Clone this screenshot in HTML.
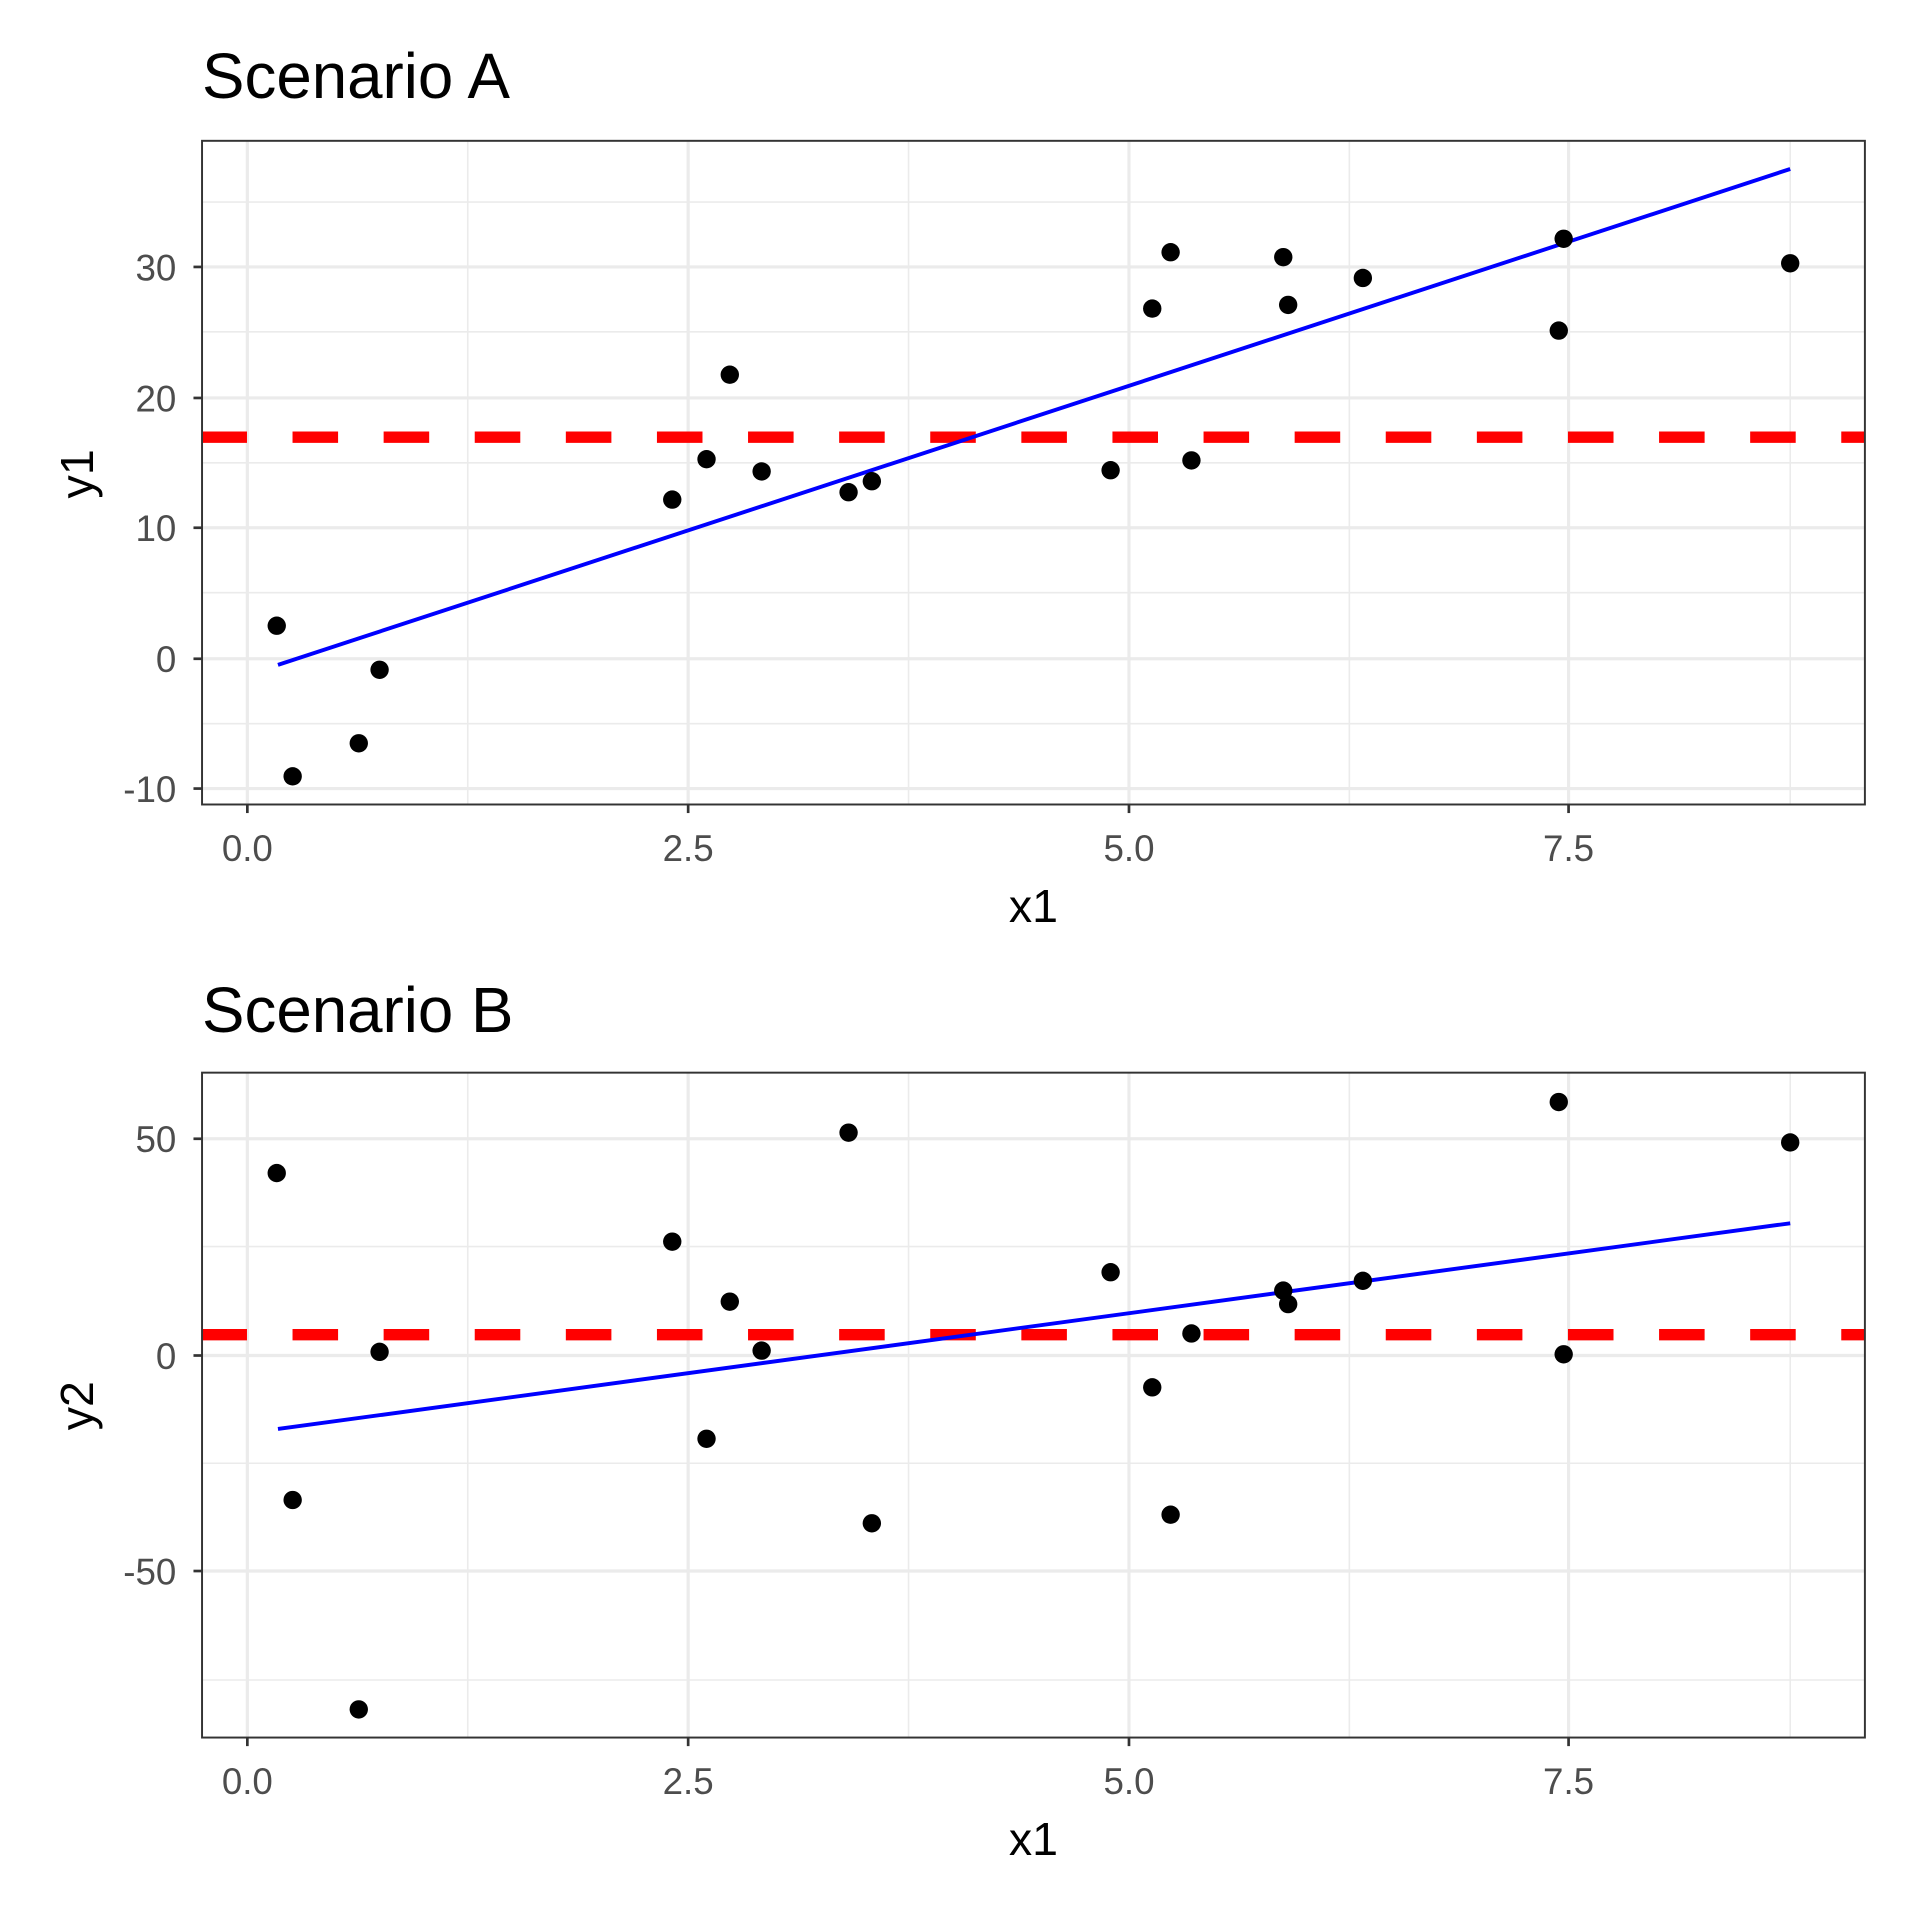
<!DOCTYPE html>
<html><head><style>html,body{margin:0;padding:0;background:#fff}svg{display:block}</style></head>
<body>
<svg width="1920" height="1920" viewBox="0 0 1568 1568" xmlns="http://www.w3.org/2000/svg" font-family="Liberation Sans, Arial, sans-serif">
<rect width="1568" height="1568" fill="#fff"/>
<!-- Panel A -->
<g>
<text x="165" y="80" font-size="52" fill="#000">Scenario A</text>
<g stroke="#ebebeb" stroke-width="1.3">
<line x1="165" x2="1523" y1="165" y2="165"/><line x1="165" x2="1523" y1="271" y2="271"/><line x1="165" x2="1523" y1="378" y2="378"/><line x1="165" x2="1523" y1="484" y2="484"/><line x1="165" x2="1523" y1="591" y2="591"/>
<line y1="115" y2="657" x1="382" x2="382"/><line y1="115" y2="657" x1="742" x2="742"/><line y1="115" y2="657" x1="1102" x2="1102"/><line y1="115" y2="657" x1="1462" x2="1462"/>
</g>
<g stroke="#ebebeb" stroke-width="2.6">
<line x1="165" x2="1523" y1="218" y2="218"/><line x1="165" x2="1523" y1="325" y2="325"/><line x1="165" x2="1523" y1="431" y2="431"/><line x1="165" x2="1523" y1="538" y2="538"/><line x1="165" x2="1523" y1="644" y2="644"/>
<line y1="115" y2="657" x1="202" x2="202"/><line y1="115" y2="657" x1="562" x2="562"/><line y1="115" y2="657" x1="922" x2="922"/><line y1="115" y2="657" x1="1281" x2="1281"/>
</g>
<line x1="165" x2="1523" y1="357" y2="357" stroke="#f00" stroke-width="9.3" stroke-dasharray="37.2,37.2" stroke-dashoffset="0.5"/>
<line x1="227" y1="543" x2="1462" y2="138" stroke="#00f" stroke-width="3.2"/>
<g fill="#000">
<circle cx="226" cy="511" r="7.5"/><circle cx="239" cy="634" r="7.5"/><circle cx="293" cy="607" r="7.5"/><circle cx="310" cy="547" r="7.5"/>
<circle cx="549" cy="408" r="7.5"/><circle cx="577" cy="375" r="7.5"/><circle cx="596" cy="306" r="7.5"/><circle cx="622" cy="385" r="7.5"/>
<circle cx="693" cy="402" r="7.5"/><circle cx="712" cy="393" r="7.5"/><circle cx="907" cy="384" r="7.5"/><circle cx="941" cy="252" r="7.5"/>
<circle cx="956" cy="206" r="7.5"/><circle cx="973" cy="376" r="7.5"/><circle cx="1048" cy="210" r="7.5"/><circle cx="1052" cy="249" r="7.5"/>
<circle cx="1113" cy="227" r="7.5"/><circle cx="1273" cy="270" r="7.5"/><circle cx="1277" cy="195" r="7.5"/><circle cx="1462" cy="215" r="7.5"/>
</g>
<rect x="165" y="115" width="1358" height="542" fill="none" stroke="#333" stroke-width="1.6"/>
<g stroke="#333" stroke-width="2.2">
<line x1="158" x2="165" y1="218" y2="218"/><line x1="158" x2="165" y1="325" y2="325"/><line x1="158" x2="165" y1="431" y2="431"/><line x1="158" x2="165" y1="538" y2="538"/><line x1="158" x2="165" y1="644" y2="644"/>
<line y1="657" y2="664" x1="202" x2="202"/><line y1="657" y2="664" x1="562" x2="562"/><line y1="657" y2="664" x1="922" x2="922"/><line y1="657" y2="664" x1="1281" x2="1281"/>
</g>
<g font-size="30" fill="#4d4d4d" text-anchor="end">
<text x="144" y="229">30</text><text x="144" y="336">20</text><text x="144" y="442">10</text><text x="144" y="549">0</text><text x="144" y="655">-10</text>
</g>
<g font-size="30" fill="#4d4d4d" text-anchor="middle">
<text x="202" y="703">0.0</text><text x="562" y="703">2.5</text><text x="922" y="703">5.0</text><text x="1281" y="703">7.5</text>
</g>
<text x="844" y="753" font-size="38" text-anchor="middle">x1</text>
<text transform="translate(76,387) rotate(-90)" font-size="38" text-anchor="middle">y1</text>
</g>
<!-- Panel B -->
<g>
<text x="165" y="843" font-size="52" fill="#000">Scenario B</text>
<g stroke="#ebebeb" stroke-width="1.3">
<line x1="165" x2="1523" y1="1018" y2="1018"/><line x1="165" x2="1523" y1="1195" y2="1195"/><line x1="165" x2="1523" y1="1372" y2="1372"/>
<line y1="876" y2="1419" x1="382" x2="382"/><line y1="876" y2="1419" x1="742" x2="742"/><line y1="876" y2="1419" x1="1102" x2="1102"/><line y1="876" y2="1419" x1="1462" x2="1462"/>
</g>
<g stroke="#ebebeb" stroke-width="2.6">
<line x1="165" x2="1523" y1="930" y2="930"/><line x1="165" x2="1523" y1="1107" y2="1107"/><line x1="165" x2="1523" y1="1283" y2="1283"/>
<line y1="876" y2="1419" x1="202" x2="202"/><line y1="876" y2="1419" x1="562" x2="562"/><line y1="876" y2="1419" x1="922" x2="922"/><line y1="876" y2="1419" x1="1281" x2="1281"/>
</g>
<line x1="165" x2="1523" y1="1090" y2="1090" stroke="#f00" stroke-width="9.3" stroke-dasharray="37.2,37.2" stroke-dashoffset="0.5"/>
<line x1="227" y1="1167" x2="1462" y2="999" stroke="#00f" stroke-width="3.2"/>
<g fill="#000">
<circle cx="226" cy="958" r="7.5"/><circle cx="239" cy="1225" r="7.5"/><circle cx="293" cy="1396" r="7.5"/><circle cx="310" cy="1104" r="7.5"/>
<circle cx="549" cy="1014" r="7.5"/><circle cx="577" cy="1175" r="7.5"/><circle cx="596" cy="1063" r="7.5"/><circle cx="622" cy="1103" r="7.5"/>
<circle cx="693" cy="925" r="7.5"/><circle cx="712" cy="1244" r="7.5"/><circle cx="907" cy="1039" r="7.5"/><circle cx="941" cy="1133" r="7.5"/>
<circle cx="956" cy="1237" r="7.5"/><circle cx="973" cy="1089" r="7.5"/><circle cx="1048" cy="1054" r="7.5"/><circle cx="1052" cy="1065" r="7.5"/>
<circle cx="1113" cy="1046" r="7.5"/><circle cx="1273" cy="900" r="7.5"/><circle cx="1277" cy="1106" r="7.5"/><circle cx="1462" cy="933" r="7.5"/>
</g>
<rect x="165" y="876" width="1358" height="543" fill="none" stroke="#333" stroke-width="1.6"/>
<g stroke="#333" stroke-width="2.2">
<line x1="158" x2="165" y1="930" y2="930"/><line x1="158" x2="165" y1="1107" y2="1107"/><line x1="158" x2="165" y1="1283" y2="1283"/>
<line y1="1419" y2="1426" x1="202" x2="202"/><line y1="1419" y2="1426" x1="562" x2="562"/><line y1="1419" y2="1426" x1="922" x2="922"/><line y1="1419" y2="1426" x1="1281" x2="1281"/>
</g>
<g font-size="30" fill="#4d4d4d" text-anchor="end">
<text x="144" y="941">50</text><text x="144" y="1118">0</text><text x="144" y="1294">-50</text>
</g>
<g font-size="30" fill="#4d4d4d" text-anchor="middle">
<text x="202" y="1465">0.0</text><text x="562" y="1465">2.5</text><text x="922" y="1465">5.0</text><text x="1281" y="1465">7.5</text>
</g>
<text x="844" y="1515" font-size="38" text-anchor="middle">x1</text>
<text transform="translate(76,1148) rotate(-90)" font-size="38" text-anchor="middle">y2</text>
</g>
</svg>
</body></html>
